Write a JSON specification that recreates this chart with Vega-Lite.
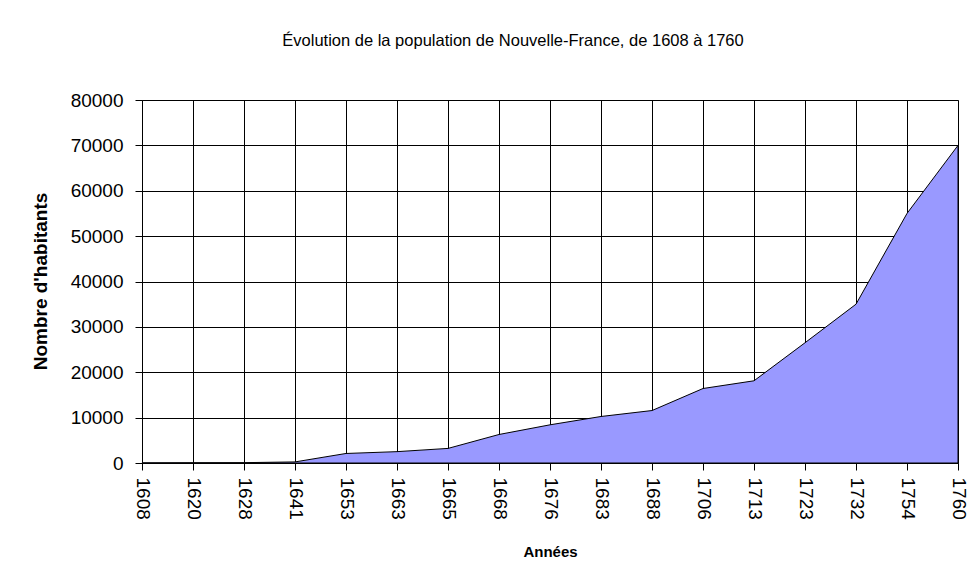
{
  "$schema": "https://vega.github.io/schema/vega-lite/v6.json",
  "width": 816,
  "height": 363,
  "autosize": {"type": "none"},
  "padding": {"left": 142, "top": 100, "right": 18, "bottom": 108},
  "background": "white",
  "title": {
    "text": "Évolution de la population de Nouvelle-France, de 1608 à 1760",
    "anchor": "middle",
    "frame": "group",
    "font": "Liberation Sans",
    "fontSize": 16.5,
    "fontWeight": "normal",
    "color": "black",
    "offset": 42,
    "dx": -37
  },
  "config": {
    "view": {"stroke": "#808080", "strokeWidth": 1},
    "axis": {
      "labelFont": "Liberation Sans",
      "labelFontSize": 19,
      "labelColor": "black",
      "titleFont": "Liberation Sans",
      "titleFontWeight": "bold",
      "titleColor": "black",
      "domainColor": "black",
      "tickColor": "black",
      "tickSize": 7,
      "gridColor": "black",
      "gridOpacity": 1,
      "gridWidth": 1
    }
  },
  "data": {
    "values": [
      {"annee": "1608", "habitants": 28},
      {"annee": "1620", "habitants": 60},
      {"annee": "1628", "habitants": 76},
      {"annee": "1641", "habitants": 240},
      {"annee": "1653", "habitants": 2100},
      {"annee": "1663", "habitants": 2500},
      {"annee": "1665", "habitants": 3215},
      {"annee": "1668", "habitants": 6282},
      {"annee": "1676", "habitants": 8415},
      {"annee": "1683", "habitants": 10251},
      {"annee": "1688", "habitants": 11562},
      {"annee": "1706", "habitants": 16417},
      {"annee": "1713", "habitants": 18119},
      {"annee": "1723", "habitants": 26500},
      {"annee": "1732", "habitants": 35000},
      {"annee": "1754", "habitants": 55000},
      {"annee": "1760", "habitants": 70000}
    ]
  },
  "mark": {"type": "area", "color": "#9999FF", "stroke": "black", "strokeWidth": 1, "opacity": 1, "fillOpacity": 1},
  "encoding": {
    "x": {
      "field": "annee",
      "type": "ordinal",
      "sort": null,
      "scale": {"type": "point", "padding": 0},
      "axis": {
        "grid": true,
        "labelAngle": 90,
        "labelAlign": "left",
        "labelBaseline": "middle",
        "labelPadding": 7,
        "title": "Années",
        "titleFontSize": 15,
        "titleX": 408,
        "titleY": 88,
        "titleBaseline": "middle",
        "titleAlign": "center"
      }
    },
    "y": {
      "field": "habitants",
      "type": "quantitative",
      "scale": {"domain": [0, 80000], "nice": false},
      "axis": {
        "values": [0, 10000, 20000, 30000, 40000, 50000, 60000, 70000, 80000],
        "format": "d",
        "grid": true,
        "labelPadding": 12,
        "title": "Nombre d'habitants",
        "titleFontSize": 19,
        "titleAngle": -90,
        "titleX": -102,
        "titleY": 181,
        "titleAlign": "center",
        "titleBaseline": "middle"
      }
    }
  }
}
